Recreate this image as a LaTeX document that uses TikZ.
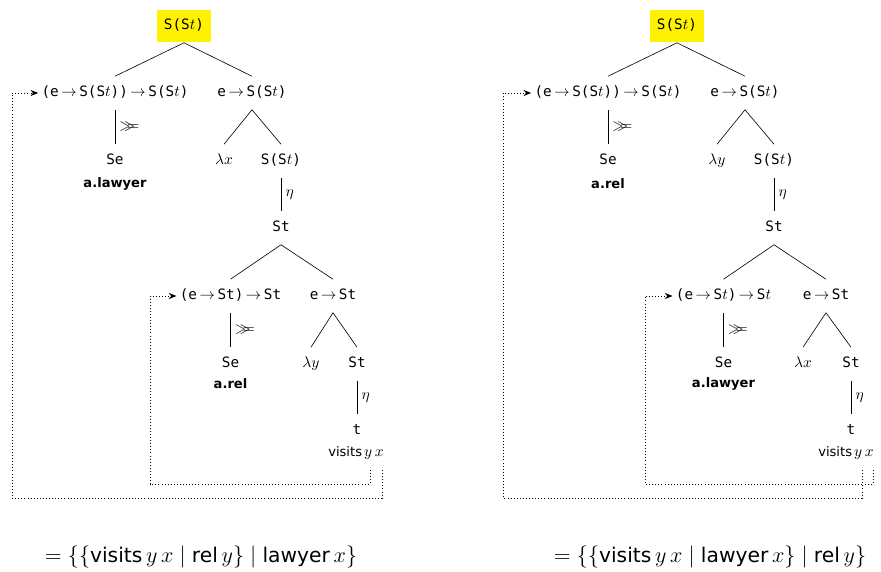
\documentclass[tikz,border=0pt]{standalone}
\usepackage{amsmath}
\usepackage{amssymb}
\usepackage{fontspec}
\setmainfont{DejaVu Sans}[Scale=0.85]
\setmonofont{DejaVu Sans Mono}[Scale=0.93]
\usepackage{tikz}
\usetikzlibrary{arrows.meta}
\newcommand{\tto}{$\,\to\,$}
\newcommand{\bnd}{$\gg\!\!\!=$}

\begin{document}
\begin{tikzpicture}[x=0.65pt,y=-0.65pt,
    ty/.style={font=\ttfamily,inner xsep=2pt,inner ysep=6.2pt,text height=7pt,text depth=2pt},
    lbl/.style={font=\bfseries,inner sep=0pt},
    bind/.style={line width=0.6pt,dash pattern=on 0.6pt off 1.4pt,-{Stealth[length=5pt,width=4pt]}},
    eqn/.style={font=\fontsize{15.5}{18}\selectfont}]
    \useasboundingbox (0,0) rectangle (881,572);
    \node[ty,fill=yellow,inner xsep=4.5pt] (l-top) at (184,26) {S(S$t$)};
    \node[ty] (l-fun) at (115,93) {(e\tto S(S$t$))\tto S(S$t$)};
    \node[ty] (l-arg) at (252,93) {e\tto S(S$t$)};
    \node[ty] (l-se) at (115,161) {Se};
    \node[lbl] (l-q) at (115,184) {a.lawyer};
    \node[ty] (l-lam) at (224,161) {$\lambda x$};
    \node[ty] (l-sst) at (281,161) {S(S$t$)};
    \node[ty] (l-st) at (281,228) {St};
    \node[ty] (l-fun2) at (230.5,296) {(e\tto St)\tto St};
    \node[ty] (l-arg2) at (333,296) {e\tto St};
    \node[ty] (l-se2) at (230.5,364) {Se};
    \node[lbl] (l-q2) at (230.5,384) {a.rel};
    \node[ty] (l-lam2) at (311,364) {$\lambda y$};
    \node[ty] (l-st2) at (357,364) {St};
    \node[ty] (l-t) at (357,431) {t};
    \node[inner sep=0pt] (l-vis) at (356,453) {visits\,$y\,x$};
    \draw (l-top.south) -- (l-fun.north);
    \draw (l-top.south) -- (l-arg.north);
    \draw (l-fun.south) -- node[right] {\bnd} (l-se.north);
    \draw (l-arg.south) -- (l-lam.north);
    \draw (l-arg.south) -- (l-sst.north);
    \draw (l-sst.south) -- node[right] {$\eta$} (l-st.north);
    \draw (l-st.south) -- (l-fun2.north);
    \draw (l-st.south) -- (l-arg2.north);
    \draw (l-fun2.south) -- node[right] {\bnd} (l-se2.north);
    \draw (l-arg2.south) -- (l-lam2.north);
    \draw (l-arg2.south) -- (l-st2.north);
    \draw (l-st2.south) -- node[right] {$\eta$} (l-t.north);
    \coordinate (l-y) at (370,470);
    \coordinate (l-x) at (382,470);
    \draw[bind] (l-y) |- (150,484) |- (l-fun2.west);
    \draw[bind] (l-x) |- (12,498) |- (l-fun.west);
    \node[eqn] (l-eq) at (201,557) {$= \{\{\text{visits}\,y\,x \mid \text{rel}\,y\} \mid \text{lawyer}\,x\}$};

    \node[ty,fill=yellow,inner xsep=4.5pt] (r-top) at (677,26) {S(S$t$)};
    \node[ty] (r-fun) at (608,93) {(e\tto S(S$t$))\tto S(S$t$)};
    \node[ty] (r-arg) at (745,93) {e\tto S(S$t$)};
    \node[ty] (r-se) at (608,161) {Se};
    \node[lbl] (r-q) at (608,184) {a.rel};
    \node[ty] (r-lam) at (717,161) {$\lambda y$};
    \node[ty] (r-sst) at (774,161) {S(S$t$)};
    \node[ty] (r-st) at (774,228) {St};
    \node[ty] (r-fun2) at (723.5,296) {(e\tto S$t$)\tto S$t$};
    \node[ty] (r-arg2) at (826,296) {e\tto St};
    \node[ty] (r-se2) at (723.5,364) {Se};
    \node[lbl] (r-q2) at (723.5,384) {a.lawyer};
    \node[ty] (r-lam2) at (803,364) {$\lambda x$};
    \node[ty] (r-st2) at (851,364) {St};
    \node[ty] (r-t) at (851,431) {t};
    \node[inner sep=0pt] (r-vis) at (846,453) {visits\,$y\,x$};
    \draw (r-top.south) -- (r-fun.north);
    \draw (r-top.south) -- (r-arg.north);
    \draw (r-fun.south) -- node[right] {\bnd} (r-se.north);
    \draw (r-arg.south) -- (r-lam.north);
    \draw (r-arg.south) -- (r-sst.north);
    \draw (r-sst.south) -- node[right] {$\eta$} (r-st.north);
    \draw (r-st.south) -- (r-fun2.north);
    \draw (r-st.south) -- (r-arg2.north);
    \draw (r-fun2.south) -- node[right] {\bnd} (r-se2.north);
    \draw (r-arg2.south) -- (r-lam2.north);
    \draw (r-arg2.south) -- (r-st2.north);
    \draw (r-st2.south) -- node[right] {$\eta$} (r-t.north);
    \coordinate (r-y) at (862,470);
    \coordinate (r-x) at (873,470);
    \draw[bind] (r-x) |- (645,484) |- (r-fun2.west);
    \draw[bind] (r-y) |- (503,498) |- (r-fun.west);
    \node[eqn] (r-eq) at (710,557) {$= \{\{\text{visits}\,y\,x \mid \text{lawyer}\,x\} \mid \text{rel}\,y\}$};
\end{tikzpicture}
\end{document}
